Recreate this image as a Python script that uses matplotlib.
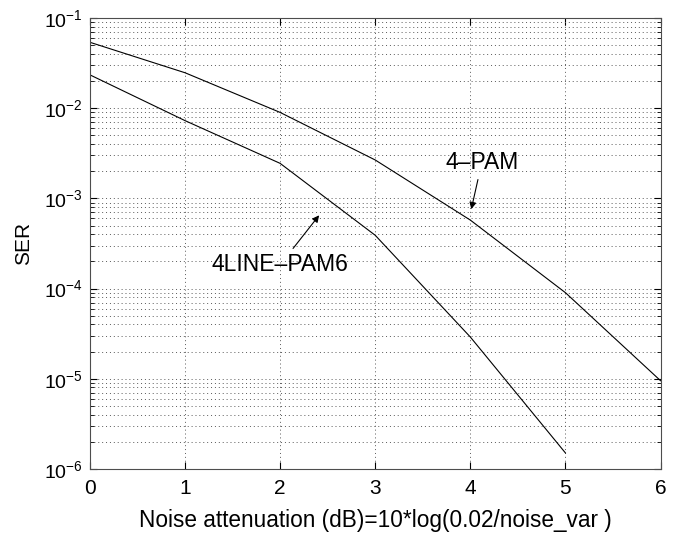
import numpy as np
import matplotlib
matplotlib.use("Agg")
import matplotlib.pyplot as plt
from matplotlib.ticker import LogLocator, NullFormatter

plt.rcParams['font.family'] = ['Liberation Sans', 'DejaVu Sans']

# noise attenuation (dB)
x_pam4 = [0, 1, 2, 3, 4, 5, 6]
ser_pam4 = [5.4e-2, 2.48e-2, 9.0e-3, 2.67e-3, 5.75e-4, 9.0e-5, 9.5e-6]

x_pam6 = [0, 1, 2, 3, 4, 5]
ser_pam6 = [2.35e-2, 7.3e-3, 2.45e-3, 3.9e-4, 2.9e-5, 1.5e-6]

xticks = [0, 1, 2, 3, 4, 5, 6]

fig = plt.figure(figsize=(6.81, 5.34), dpi=100)
ax = fig.add_axes([0.132, 0.122, 0.838, 0.844])

ax.semilogy(x_pam4, ser_pam4, color='k', lw=0.8)
ax.semilogy(x_pam6, ser_pam6, color='k', lw=0.8)

ax.set_xlim(0, 6)
ax.set_ylim(1e-6, 1e-1)
ax.set_xticks(xticks)
ax.yaxis.set_major_locator(LogLocator(base=10, numticks=10))
ax.yaxis.set_minor_locator(LogLocator(base=10, subs=np.arange(2, 10), numticks=100))
ax.yaxis.set_minor_formatter(NullFormatter())

dots = (0, (1, 3))
ax.grid(True, which='major', linestyle=dots, color='0.35', lw=0.7)
ax.grid(True, which='minor', axis='y', linestyle=dots, color='0.35', lw=0.7)

ax.tick_params(which='both', direction='in', top=True, right=True)
ax.tick_params(axis='x', labelsize=15, pad=7)
ax.tick_params(axis='y', labelsize=14, pad=5)
ax.tick_params(which='major', length=5)
ax.tick_params(which='minor', length=3)
for s in ax.spines.values():
    s.set_linewidth(0.8)
    s.set_color('0.3')

ax.set_xlabel('Noise attenuation (dB)=10*log(0.02/noise_var )', fontsize=16.3, labelpad=8)
ax.set_ylabel('SER', fontsize=15, labelpad=8)

arrow = dict(arrowstyle='-|>', color='k', lw=0.8, mutation_scale=10, shrinkA=2, shrinkB=0)
ax.annotate('4\u2013PAM', xy=(4.01, 7.6e-4), xytext=(4.12, 2.5e-3),
            ha='center', va='center', fontsize=16.5, arrowprops=arrow)
ax.annotate('4LINE\u2013PAM6', xy=(2.41, 6.5e-4), xytext=(2.0, 1.83e-4),
            ha='center', va='center', fontsize=16.5, arrowprops=arrow)

fig.savefig('out.png', dpi=100)
